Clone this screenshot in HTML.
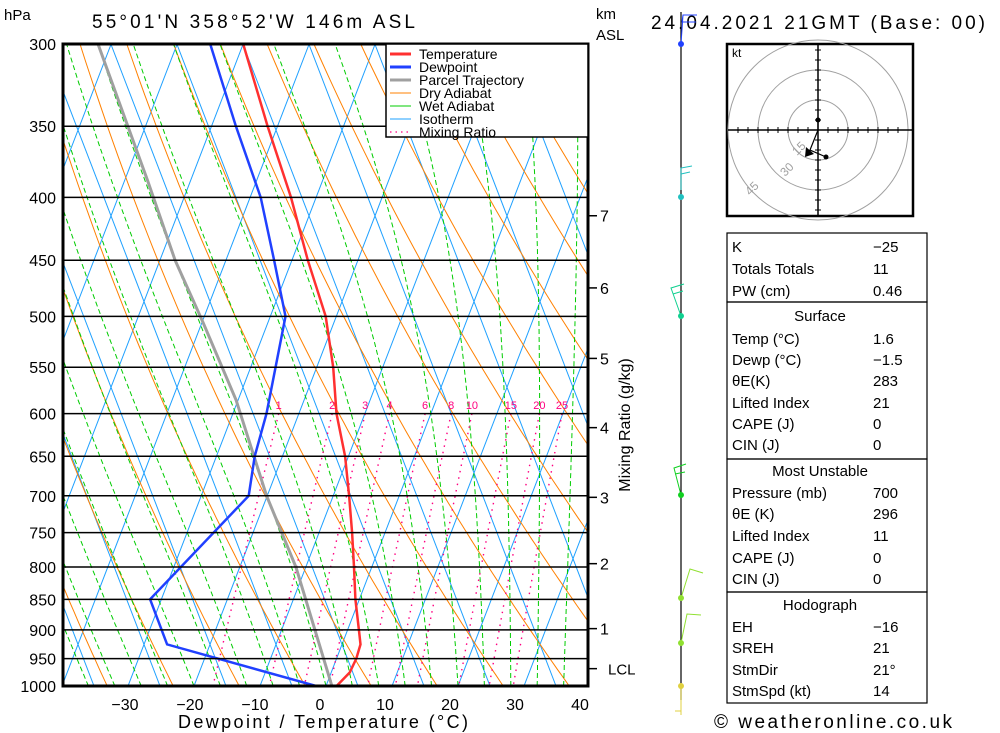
<!DOCTYPE html>
<html><head><meta charset="utf-8">
<style>
html,body{margin:0;padding:0;background:#fff;}
svg{display:block;font-family:"Liberation Sans",sans-serif;}
</style></head>
<body>
<svg id="chart" width="1000" height="733" viewBox="0 0 1000 733" xmlns="http://www.w3.org/2000/svg">
<defs><clipPath id="plotclip"><rect x="63" y="44" width="525" height="642"/></clipPath></defs>
<g id="grid" clip-path="url(#plotclip)"></g>
<g id="series" clip-path="url(#plotclip)"></g>
<g id="axes"></g>
<text x="4" y="20" font-size="15">hPa</text>
<text x="92" y="28" font-size="19" textLength="323">55°01'N  358°52'W  146m  ASL</text>
<text x="596" y="19" font-size="15">km</text>
<text x="596" y="40" font-size="15">ASL</text>
<text x="651" y="29" font-size="19" textLength="334">24.04.2021  21GMT  (Base: 00)</text>
<text x="323" y="728" font-size="18" text-anchor="middle" textLength="290">Dewpoint / Temperature (°C)</text>
<text transform="translate(630,425) rotate(-90)" font-size="16" text-anchor="middle">Mixing Ratio (g/kg)</text>
<g id="legend"></g>
<g id="wind"></g>
<g id="hodo"></g>
<g id="table"></g>
<text x="714" y="728" font-size="19" textLength="238">© weatheronline.co.uk</text>
</svg>
<script>
const tempPressures = [300,350,400,450,500,550,600,650,700,750,800,850,900,925,950,975,1000];
const tempValues = [-50.0,-41.5,-33.8,-27.6,-21.6,-17.5,-14.3,-10.5,-7.6,-5.0,-2.7,-0.6,1.7,2.8,3.0,2.8,1.6];
const dewPressures = [300,350,400,450,500,600,650,700,850,925,1000];
const dewValues = [-55.0,-46.3,-38.4,-32.7,-27.7,-24.9,-24.2,-22.8,-31.7,-26.5,-1.5];
const parcelPressures = [1000,800,700,585,506,450,387,300];
const parcelValues = [0.9,-11.5,-20.1,-30.3,-39.8,-47.7,-56.6,-72.0];
const isobarLevels = [300,350,400,450,500,550,600,650,700,750,800,850,900,950,1000];
const tempTicks = [-30,-20,-10,0,10,20,30,40];
const mixingRatios = [1,2,3,4,6,8,10,15,20,25];
const kmTicks = [1,2,3,4,5,6,7];
const kmTickPressures = [898,795,702,616,541,474,414];
const lclPressure = 968;
const tableRows = [["K","−25"],["Totals Totals","11"],["PW (cm)","0.46"],["#Surface"],["Temp (°C)","1.6"],["Dewp (°C)","−1.5"],["θE(K)","283"],["Lifted Index","21"],["CAPE (J)","0"],["CIN (J)","0"],["#Most Unstable"],["Pressure (mb)","700"],["θE (K)","296"],["Lifted Index","11"],["CAPE (J)","0"],["CIN (J)","0"],["#Hodograph"],["EH","−16"],["SREH","21"],["StmDir","21°"],["StmSpd (kt)","14"]];

const NS="http://www.w3.org/2000/svg";
function mk(tag,attrs,parent){const e=document.createElementNS(NS,tag);for(const k in attrs)e.setAttribute(k,attrs[k]);parent.appendChild(e);return e;}
function yP(p){return 44+Math.log(p/300)/Math.log(1000/300)*642;}
function xT(T,p){return 326+6.6*T+0.385*(686-yP(p));}
const grid=document.getElementById('grid'),series=document.getElementById('series'),axes=document.getElementById('axes');
function polyPts(fn,p0,p1,step){const pts=[];for(let p=p0;p<=p1+0.01;p+=step){pts.push(fn(p).toFixed(1)+','+yP(p).toFixed(1));}return pts.join(' ');}

for(let k=-12;k<=8;k++){
  const x0=326+66*k;
  let l=mk('line',{x1:x0,y1:686,x2:x0+0.385*642,y2:44,stroke:'#1ea0ff','stroke-width':1},grid);
  
  
  const x1=358+66*k;
  let m=mk('line',{x1:x1,y1:686,x2:x1-0.385*642,y2:44,stroke:'#1ea0ff','stroke-width':1},grid);
  
  
}
for(let th=210;th<=480;th+=10){
  let l=mk('polyline',{points:polyPts(p=>xT(th*Math.pow(p/1000,0.286)-273.15,p),300,1000,10),fill:'none',stroke:'#ff8000','stroke-width':1},grid);
  
  
}
function es(T){return 6.112*Math.exp(17.67*T/(T+243.5));}
function moistLapse(T,p){const Tk=T+273.15;const e=es(T);const r=0.622*e/(p-e);const Lv=2.5e6,Rd=287,cp=1005;
  return (Rd*Tk+Lv*r)/(cp+Lv*Lv*r*0.622/(Rd*Tk*Tk))/p;}
for(let tw=-40;tw<=40;tw+=4){
  let T=tw,pts=[];
  for(let p=1000;p>=300;p-=5){pts.push(xT(T,p).toFixed(1)+','+yP(p).toFixed(1));T-=moistLapse(T,p)*5;}
  let l=mk('polyline',{points:pts.join(' '),fill:'none',stroke:'#00cc00','stroke-width':1,'stroke-dasharray':'5,3'},grid);
  
  
}
function tdFromW(w,p){const e=w*p/(622+w);const a=Math.log(e/6.112);return 243.5*a/(17.67-a);}
mixingRatios.forEach(w=>{
  let l=mk('polyline',{points:polyPts(p=>xT(tdFromW(w,p),p),600,1000,10),fill:'none',stroke:'#ff0080','stroke-width':1.4,'stroke-dasharray':'1.5,5'},grid);
  
  
  let t=mk('text',{x:xT(tdFromW(w,600),600),y:409,'font-size':11,fill:'#ff0080','text-anchor':'middle'},grid);
  t.textContent=w;
  
  
});
isobarLevels.forEach(p=>{
  const y=yP(p);
  let l=mk('line',{x1:63,x2:588,y1:y,y2:y,stroke:'#000','stroke-width':1.5},axes);
  
  
  let t=mk('text',{x:56,y:y+6,'font-size':16,'text-anchor':'end'},axes);
  t.textContent=p;
  
  
});
let fr=mk('rect',{x:63,y:44,width:525,height:642,fill:'none',stroke:'#000','stroke-width':3},axes);


tempTicks.forEach(T=>{
  let t=mk('text',{x:320+6.5*T,y:710,'font-size':16,'text-anchor':'middle'},axes);
  t.textContent=(T<0?'−'+(-T):T);
  
  
});
kmTicks.forEach((k,i)=>{
  const y=yP(kmTickPressures[i]);
  mk('line',{x1:588,x2:597,y1:y,y2:y,stroke:'#000','stroke-width':1.5},axes);
  let t=mk('text',{x:600,y:y+6,'font-size':16},axes);
  t.textContent=k;
  
  
});
{const y=yP(lclPressure);mk('line',{x1:588,x2:597,y1:y,y2:y,stroke:'#000','stroke-width':1.5},axes);
 let t=mk('text',{x:608,y:y+6,'font-size':15},axes);t.textContent='LCL';
 
 }

function profile(ps,vs,color,w,name){
  const pts=ps.map((p,i)=>xT(vs[i],p).toFixed(1)+','+yP(p).toFixed(1)).join(' ');
  let l=mk('polyline',{points:pts,fill:'none',stroke:color,'stroke-width':w},series);
  
  
}
profile(parcelPressures,parcelValues,'#a0a0a0',3,'parcel-trajectory-line');
profile(tempPressures,tempValues,'#ff3030',2.5,'temperature-line');
profile(dewPressures,dewValues,'#2040ff',2.5,'dewpoint-line');

const lg=document.getElementById('legend');
mk('rect',{x:386,y:44,width:202,height:93,fill:'#fff',stroke:'#000','stroke-width':1.5},lg);
[['Temperature','#ff3030',3,''],['Dewpoint','#2040ff',3,''],['Parcel Trajectory','#a0a0a0',3,''],['Dry Adiabat','#ff8000',1,''],['Wet Adiabat','#00cc00',1,''],['Isotherm','#1ea0ff',1,''],['Mixing Ratio','#ff0080',1.2,'1.5,4']].forEach((e,i)=>{
  const y=54+i*13;
  mk('line',{x1:390,x2:411,y1:y,y2:y,stroke:e[1],'stroke-width':e[2],'stroke-dasharray':e[3]||'none'},lg);
  let t=mk('text',{x:419,y:y+5,'font-size':14},lg);t.textContent=e[0];
  
  
});

const wd=document.getElementById('wind');
mk('line',{x1:681,x2:681,y1:12,y2:700,stroke:'#000','stroke-width':1.2},wd);
mk('line',{x1:681,x2:681,y1:686,y2:715,stroke:'#e0d040','stroke-width':1},wd);
mk('line',{x1:675,x2:681,y1:711,y2:711,stroke:'#e0d040','stroke-width':1},wd);
[[44,'#2040ff'],[197,'#20c0c0'],[316,'#10d090'],[495,'#10d020'],[598,'#90e030'],[643,'#90e030'],[686,'#e0d040']].forEach(d=>{
  let c=mk('circle',{cx:681,cy:d[0],r:3,fill:d[1]},wd);
  
  
});
[['681,44 683,15 697,15 M683,15 682,22 696,22','#2040ff'],['681,190 681,168 692,166 M681,174 690,172','#20c0c0'],['681,316 671,288 684,284 M673,294 683,291','#10d090'],['681,495 674,468 686,464 M675,474 685,472','#10d020'],['681,598 690,569 703,573','#90e030'],['681,643 687,614 701,615','#90e030']].forEach(b=>{
  let pth=mk('path',{d:'M'+b[0].replace('M',' M'),fill:'none',stroke:b[1],'stroke-width':1},wd);
  
  
});

const hd=document.getElementById('hodo');
const cx=818,cy=130;
mk('rect',{x:727,y:44,width:186,height:172,fill:'#fff',stroke:'#000','stroke-width':2.5},hd);
[30,60,90].forEach(r=>mk('circle',{cx:cx,cy:cy,r:r,fill:'none',stroke:'#a0a0a0','stroke-width':1},hd));
mk('line',{x1:728,x2:912,y1:cy,y2:cy,stroke:'#000','stroke-width':1.5},hd);
mk('line',{x1:cx,x2:cx,y1:45,y2:215,stroke:'#000','stroke-width':1.5},hd);
for(let d=-80;d<=80;d+=10){if(d===0)continue;
  mk('line',{x1:cx+d,x2:cx+d,y1:cy-3,y2:cy+3,stroke:'#000'},hd);
  mk('line',{x1:cx-3,x2:cx+3,y1:cy+d,y2:cy+d,stroke:'#000'},hd);}
let kt=mk('text',{x:732,y:57,'font-size':12},hd);kt.textContent='kt';
[['15',797,156],['30',785,177],['45',750,196]].forEach(a=>{let t=mk('text',{x:a[1],y:a[2],'font-size':12,fill:'#a0a0a0',transform:'rotate(-45 '+a[1]+' '+a[2]+')'},hd);t.textContent=a[0];});
mk('polyline',{points:'818,120 818,130 810,150 826,157',fill:'none',stroke:'#000','stroke-width':1.2},hd);
mk('path',{d:'M806,147 L814,154 L805,157 Z',fill:'#000'},hd);
mk('circle',{cx:818,cy:120,r:2.5,fill:'#000'},hd);
mk('circle',{cx:826,cy:157,r:2.5,fill:'#000'},hd);

const tb=document.getElementById('table');
[[233,302],[302,459],[459,592],[592,703]].forEach(s=>mk('rect',{x:727,y:s[0],width:200,height:s[1]-s[0],fill:'none',stroke:'#000','stroke-width':1.2},tb));
const rowYs=[252,274,296,321,344,365,386,408,429,450,476,498,519,541,563,584,610,632,653,675,696];
tableRows.forEach((r,i)=>{
  const y=rowYs[i];
  if(r[0][0]==='#'){let t=mk('text',{x:820,y:y,'font-size':15,'text-anchor':'middle'},tb);t.textContent=r[0].slice(1);
    
    return;}
  let a=mk('text',{x:732,y:y,'font-size':15},tb);a.textContent=r[0];
  
  
  let b=mk('text',{x:873,y:y,'font-size':15},tb);b.textContent=r[1];
  
  
});
</script>
</body></html>
